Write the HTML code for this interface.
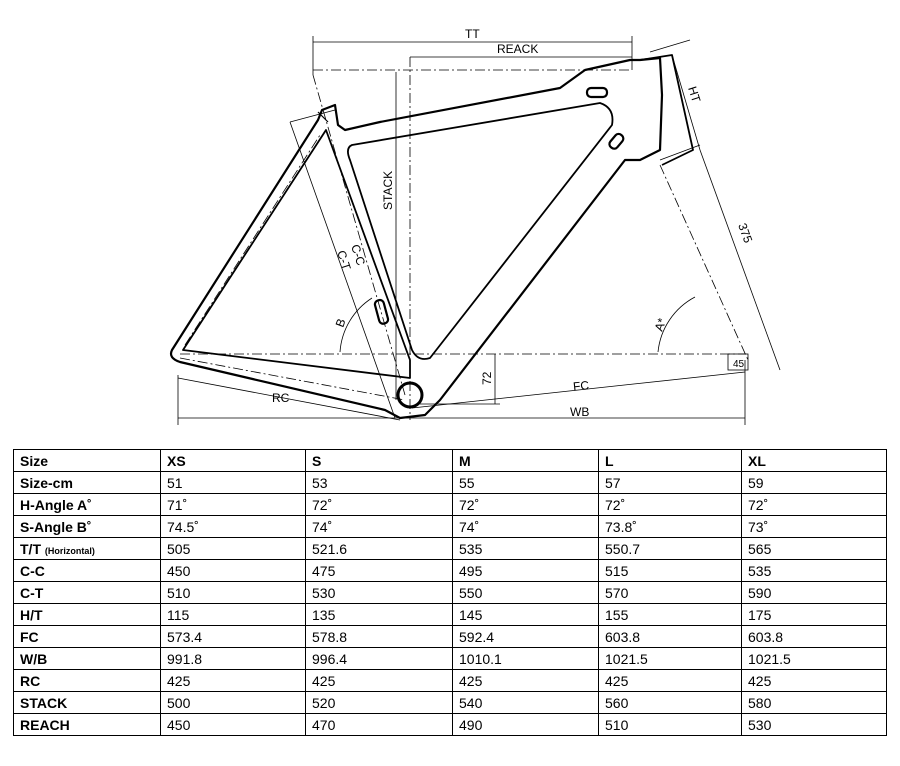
<!DOCTYPE html>
<html><head><meta charset="utf-8"><style>
body{margin:0;width:900px;height:766px;background:#fff;overflow:hidden;font-family:"Liberation Sans",sans-serif}
svg{position:absolute;left:0;top:0}
table{position:absolute;left:13px;top:449px;border-collapse:collapse;font-size:14px;color:#000;table-layout:fixed}
tr{height:22px}
td{border:1px solid #000;padding:0 0 0 6px;line-height:16px;overflow:hidden;white-space:nowrap}
td:first-child{font-weight:bold}
small{font-size:9px;line-height:9px}
</style></head><body>
<svg width="900" height="440" viewBox="0 0 900 440" fill="none" stroke="#000" font-family="Liberation Sans,sans-serif">
<g stroke-width="0.8">
<line x1="313" y1="42" x2="632" y2="42"/><line x1="313" y1="36" x2="313" y2="75"/><line x1="632" y1="36" x2="632" y2="70"/>
<line x1="410" y1="57" x2="632" y2="57"/>
<line x1="396" y1="72" x2="396" y2="400"/>
<line x1="178" y1="418" x2="745" y2="418"/><line x1="178" y1="375" x2="178" y2="425"/><line x1="745" y1="360" x2="745" y2="425"/>
<line x1="178" y1="378" x2="400" y2="420"/>
<line x1="495" y1="354" x2="495" y2="404"/><line x1="420" y1="404" x2="500" y2="404"/>
<line x1="672" y1="55" x2="700" y2="150"/><line x1="650" y1="52" x2="690" y2="40"/>
<line x1="700" y1="150" x2="780" y2="370"/><line x1="660" y1="160" x2="700" y2="145"/>
<line x1="412" y1="408" x2="745" y2="372"/>
<line x1="290" y1="122" x2="395" y2="418"/><line x1="290" y1="122" x2="335" y2="110"/>
<path d="M340 352 A70 70 0 0 1 372 298"/>
<path d="M658 352 A70 70 0 0 1 695 297"/>
<rect x="728" y="354" width="20" height="16"/>
</g>
<g stroke-width="0.8" stroke-dasharray="10,3,2,3">
<line x1="313" y1="70" x2="632" y2="70"/>
<line x1="410" y1="57" x2="410" y2="420"/>
<line x1="313" y1="75" x2="405" y2="395"/>
<line x1="180" y1="354" x2="745" y2="354"/>
<line x1="180" y1="358" x2="405" y2="400"/>
<line x1="660" y1="165" x2="748" y2="360"/>
<line x1="185" y1="345" x2="320" y2="135"/>
</g>
<g stroke-width="2.2" stroke-linejoin="round">
<path d="M172 350 L318 120 L322 110 L335 105 L338 125 L345 130 L380 122 L560 88 L585 70 L630 60 L640 60 L660 58 L662 95 L660 150 L640 160 L625 160 L440 400 L425 415 L400 418 L385 410 L180 362 Q168 358 172 350 Z"/>
<path d="M183 350 L326 130 L410 360 L410 378 Z" stroke-width="1.8"/>
<path d="M352 145 L600 103 Q615 108 612 125 L430 358 Q418 362 412 350 L350 160 Q345 148 352 145 Z" stroke-width="1.8"/>
<path d="M318 112 L328 122" stroke-width="1.2"/>
<rect x="587" y="88" width="20" height="9" rx="4"/>
<rect x="608" y="137" width="16" height="9" rx="4" transform="rotate(-50 616 141)"/>
<rect x="377" y="300" width="9" height="24" rx="4" transform="rotate(-15 381 312)"/>
<circle cx="410" cy="395" r="12" stroke-width="3"/>
<path d="M640 60 L672 55 L693 150 L662 165" stroke-width="1.8"/>
</g>
<g fill="#000" stroke="none" font-size="12">
<text x="465" y="38">TT</text>
<text x="497" y="53">REACK</text>
<text x="272" y="402">RC</text>
<text x="570" y="416">WB</text>
<text x="573" y="390" transform="rotate(-6 580 386)">FC</text>
<text x="733" y="367" font-size="10">45</text>
<text transform="translate(392,210) rotate(-90)">STACK</text>
<text transform="translate(491,385) rotate(-90)">72</text>
<text transform="translate(337,252) rotate(72)">C-T</text>
<text transform="translate(351,246) rotate(72)">C-C</text>
<text transform="translate(688,88) rotate(72)">HT</text>
<text transform="translate(738,225) rotate(70)">375</text>
<text transform="translate(343,328) rotate(-70)">B</text>
<text transform="translate(662,332) rotate(-70)">A*</text>
</g>
</svg>
<table>
<colgroup><col style="width:147px"><col style="width:145px"><col style="width:147px"><col style="width:146px"><col style="width:143px"><col style="width:145px"></colgroup>
<tr><td>Size</td><td><b>XS</b></td><td><b>S</b></td><td><b>M</b></td><td><b>L</b></td><td><b>XL</b></td></tr>
<tr><td>Size-cm</td><td>51</td><td>53</td><td>55</td><td>57</td><td>59</td></tr>
<tr><td>H-Angle A˚</td><td>71˚</td><td>72˚</td><td>72˚</td><td>72˚</td><td>72˚</td></tr>
<tr><td>S-Angle B˚</td><td>74.5˚</td><td>74˚</td><td>74˚</td><td>73.8˚</td><td>73˚</td></tr>
<tr><td>T/T <small>(Horizontal)</small></td><td>505</td><td>521.6</td><td>535</td><td>550.7</td><td>565</td></tr>
<tr><td>C-C</td><td>450</td><td>475</td><td>495</td><td>515</td><td>535</td></tr>
<tr><td>C-T</td><td>510</td><td>530</td><td>550</td><td>570</td><td>590</td></tr>
<tr><td>H/T</td><td>115</td><td>135</td><td>145</td><td>155</td><td>175</td></tr>
<tr><td>FC</td><td>573.4</td><td>578.8</td><td>592.4</td><td>603.8</td><td>603.8</td></tr>
<tr><td>W/B</td><td>991.8</td><td>996.4</td><td>1010.1</td><td>1021.5</td><td>1021.5</td></tr>
<tr><td>RC</td><td>425</td><td>425</td><td>425</td><td>425</td><td>425</td></tr>
<tr><td>STACK</td><td>500</td><td>520</td><td>540</td><td>560</td><td>580</td></tr>
<tr><td>REACH</td><td>450</td><td>470</td><td>490</td><td>510</td><td>530</td></tr>
</table>
</body></html>
